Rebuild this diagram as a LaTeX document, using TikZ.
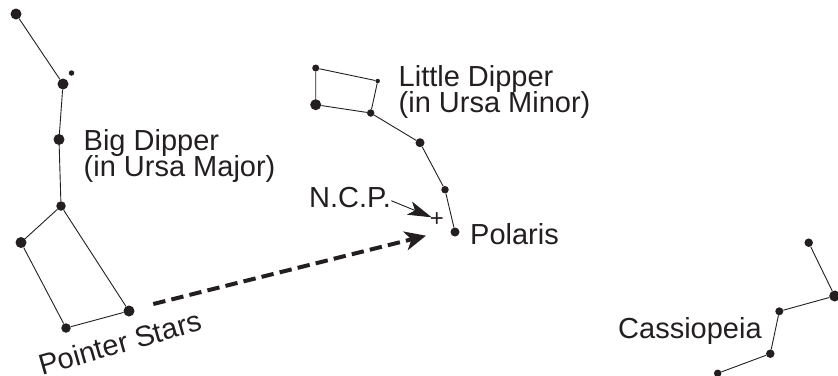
\documentclass[tikz,border=0pt]{standalone}
\usepackage{fontspec}
\setmainfont{Liberation Sans}
\usetikzlibrary{arrows.meta}
\definecolor{ink}{HTML}{231F20}
\tikzset{
  x=1pt,y=-1pt,
  star/.style={circle,fill=ink,draw=none,inner sep=0pt,minimum size=#1},
  link/.style={draw=ink,line width=0.9pt},
  lbl/.style={font=\fontsize{29}{29}\selectfont,text=ink,inner sep=0pt,align=left},
  pointer/.style={draw=ink,line width=4pt,dash pattern=on 12.4pt off 6.2pt,-{Stealth[length=21pt,width=19pt,inset=6pt]}},
  ncparrow/.style={draw=ink,line width=0.9pt,-{Stealth[length=24pt,width=14pt,inset=6pt]}}
}
\begin{document}
\begin{tikzpicture}
\useasboundingbox (0,0) rectangle (838,375);
% Big Dipper
\node[star=11pt] (b1) at (16,14) {};
\node[star=11pt] (b2) at (63,84) {};
\node[star=5.5pt] (b0) at (71.5,73) {};
\node[star=11pt] (b3) at (59,139.5) {};
\node[star=9.5pt] (b4) at (61,206) {};
\node[star=11pt] (b5) at (21,242.5) {};
\node[star=9.5pt] (b6) at (66,328) {};
\node[star=11pt] (b7) at (129,311) {};
\draw[link] (b1)--(b2)--(b3)--(b4)--(b5)--(b6)--(b7)--(b4);
% Little Dipper
\node[star=7pt] (l1) at (315.7,68) {};
\node[star=4.5pt] (l2) at (377.7,81) {};
\node[star=11pt] (l3) at (315.7,104.7) {};
\node[star=7.5pt] (l4) at (370.7,113) {};
\node[star=9pt] (l5) at (420,142.7) {};
\node[star=7.5pt] (l6) at (445,189.7) {};
\node[star=9pt] (l7) at (455,232) {};
\draw[link] (l1)--(l2)--(l4)--(l3)--(l1);
\draw[link] (l4)--(l5)--(l6)--(l7);
% Cassiopeia
\node[star=8.5pt] (c0) at (808.7,242.7) {};
\node[star=11pt] (c1) at (834.7,296) {};
\node[star=8pt] (c2) at (779.3,311.3) {};
\node[star=8.5pt] (c3) at (770.3,353.7) {};
\node[star=7.5pt] (c4) at (717.7,373.3) {};
\draw[link] (c0)--(c1)--(c2)--(c3)--(c4);
% Labels
\node[lbl,anchor=base west] at (83.5,150) {Big Dipper};
\node[lbl,anchor=base west] at (83.5,176.5) {(in Ursa Major)};
\node[lbl,anchor=base west] at (398.5,86) {Little Dipper};
\node[lbl,anchor=base west] at (398.5,112) {(in Ursa Minor)};
\node[lbl,anchor=base west] (ncp) at (309,207.5) {N.C.P.};
\node[lbl,anchor=base west] at (470,244) {Polaris};
\node[lbl,anchor=base west] at (618,338) {Cassiopeia};
\node[lbl,anchor=base west,rotate=16] at (42,376) {Pointer Stars};
\node[font=\fontsize{24}{24}\selectfont,text=ink,inner sep=0pt] (plus) at (437,220) {+};
\coordinate (ncpstart) at (391.3,200.7);
\coordinate (ncptip) at (431.7,217.3);
\coordinate (pstart) at (153.3,304);
\coordinate (ptip) at (426,235.7);
\draw[ncparrow] (ncpstart)--(ncptip);
\draw[pointer] (pstart)--(ptip);
\end{tikzpicture}
\end{document}
